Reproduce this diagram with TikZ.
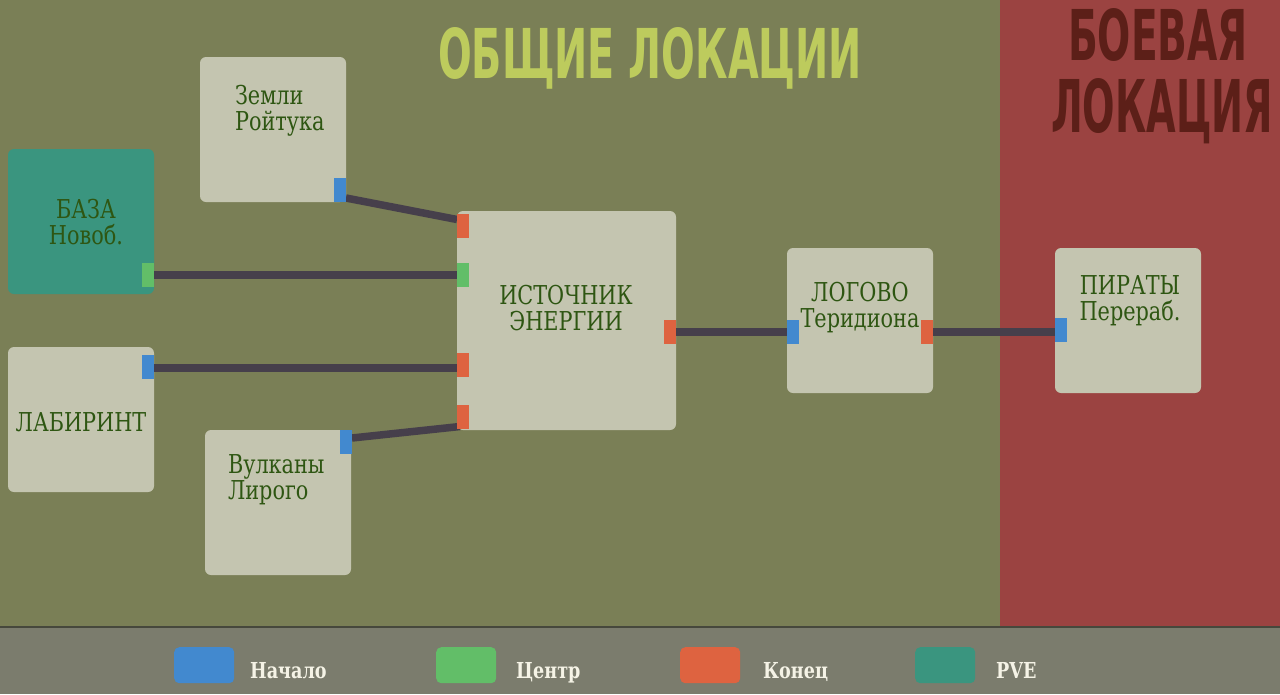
\documentclass[tikz,border=0pt]{standalone}
\usepackage{fontspec}
\usepackage{graphicx}
\setmainfont{DejaVu Serif}
\newfontfamily\titlefont{DejaVu Sans}
\definecolor{bggreen}{RGB}{122,127,86}
\definecolor{bgred}{RGB}{155,67,65}
\definecolor{bargray}{RGB}{123,124,109}
\definecolor{barline}{RGB}{70,72,60}
\definecolor{boxgray}{RGB}{196,197,176}
\definecolor{pvteal}{RGB}{58,149,127}
\definecolor{pblue}{RGB}{66,137,207}
\definecolor{pgreen}{RGB}{98,190,104}
\definecolor{pred}{RGB}{222,99,64}
\definecolor{wire}{RGB}{70,63,75}
\definecolor{txtgreen}{RGB}{46,86,18}
\definecolor{titlegreen}{RGB}{189,203,93}
\definecolor{titlered}{RGB}{92,31,24}
\definecolor{legtext}{RGB}{245,243,230}
\newcommand\cx[2][0.8]{\scalebox{#1}[1]{#2}}
\pgfdeclarelayer{bg}\pgfdeclarelayer{boxes}\pgfdeclarelayer{wires}
\pgfsetlayers{bg,boxes,wires,main}
\begin{document}
\begin{tikzpicture}[x=1pt,y=-1pt,
  loc/.style={fill=boxgray, rounded corners=6pt, inner sep=0pt, outer sep=0pt,
    minimum width=146pt, minimum height=145pt, anchor=north west},
  port/.style={inner sep=0pt, outer sep=0pt, minimum width=12pt, minimum height=24pt, anchor=north west},
  pstart/.style={port, fill=pblue},
  pmid/.style={port, fill=pgreen},
  pend/.style={port, fill=pred},
  conn/.style={draw=wire, line width=7.5pt},
  lbl/.style={font=\fontsize{26}{26}\selectfont, text=txtgreen, inner sep=0pt, outer sep=0pt},
  legbox/.style={rounded corners=5pt, minimum width=60pt, minimum height=36pt, anchor=north west, inner sep=0pt},
  legtxt/.style={font=\fontsize{22}{26}\selectfont\bfseries, text=legtext, inner sep=0pt, anchor=base west},
  ttl/.style={inner sep=0pt, outer sep=0pt, anchor=base west}
]
\useasboundingbox (0,0) rectangle (1280,694);
\begin{pgfonlayer}{bg}
  \fill[bggreen] (0,0) rectangle (1000,627);
  \fill[bgred] (1000,0) rectangle (1280,627);
  \fill[bargray] (0,627) rectangle (1280,694);
  \draw[barline, line width=2pt] (0,627) -- (1280,627);
\end{pgfonlayer}

% titles
\node[ttl, text=titlegreen] (t1) at (438,78) {\resizebox{424pt}{51pt}{\titlefont\bfseries ОБЩИЕ ЛОКАЦИИ}};
\node[ttl, text=titlered] (t2) at (1068,60) {\resizebox{180pt}{52pt}{\titlefont\bfseries БОЕВАЯ}};
\node[ttl, text=titlered] (t3) at (1051,132) {\resizebox{222pt}{54pt}{\titlefont\bfseries ЛОКАЦИЯ}};

% location boxes
\begin{pgfonlayer}{boxes}
  \node[loc] (zem) at (200,57) {};
  \node[loc, fill=pvteal] (baza) at (8,149) {};
  \node[loc] (lab) at (8,347) {};
  \node[loc] (vul) at (205,430) {};
  \node[loc, minimum width=219pt, minimum height=219pt] (src) at (457,211) {};
  \node[loc] (log) at (787,248) {};
  \node[loc] (pir) at (1055,248) {};
\end{pgfonlayer}

% labels (base anchor = baseline of the last line)
\node[lbl, align=left, anchor=base west] (tz) at (235,130) {\cx{Земли}\\\cx{Ройтука}};
\node[lbl, align=center, anchor=base] (tb) at (86,244) {\cx{БАЗА}\\\cx{Новоб.}};
\node[lbl, anchor=base] (tl) at (81,431) {\cx{ЛАБИРИНТ}};
\node[lbl, align=left, anchor=base west] (tv) at (228,499) {\cx{Вулканы}\\\cx{Лирого}};
\node[lbl, align=center, anchor=base] (ts) at (566,330) {\cx{ИСТОЧНИК}\\\cx{ЭНЕРГИИ}};
\node[lbl, align=center, anchor=base] (tg) at (860,327) {\cx{ЛОГОВО}\\\cx{Теридиона}};
\node[lbl, align=center, anchor=base] (tp) at (1130,320) {\cx{ПИРАТЫ}\\\cx{Перераб.}};

% ports
\node[pstart] (zp) at (334,178) {};
\node[pmid] (bp) at (142,263) {};
\node[pstart] (lp) at (142,355) {};
\node[pstart] (vp) at (340,430) {};
\node[pend] (s1) at (457,214) {};
\node[pmid] (s2) at (457,263) {};
\node[pend] (s3) at (457,353) {};
\node[pend] (s4) at (457,405) {};
\node[pend] (so) at (664,320) {};
\node[pstart] (gl) at (787,320) {};
\node[pend] (gr) at (921,320) {};
\node[pstart] (pp) at (1055,318) {};

% connectors
\begin{pgfonlayer}{wires}
  \draw[conn] ([yshift=-8pt]zp.east) -- ([yshift=6.5pt]s1.west);
  \draw[conn] (bp.east) -- (s2.west);
  \draw[conn] ([yshift=-1pt]lp.center) -- ([yshift=-1pt]lp.center -| s3.west);
  \draw[conn] ([yshift=4pt]vp.east) -- ([xshift=3pt,yshift=-9.5pt]s4.west);
  \draw[conn] (so.center) -- (so.center -| gl.center);
  \draw[conn] (gr.center) -- (gr.center -| pp.center);
\end{pgfonlayer}

% legend
\node[legbox, fill=pblue] (l1) at (174,647) {};
\node[legtxt] (lt1) at (250,678) {\cx[0.8]{Начало}};
\node[legbox, fill=pgreen] (l2) at (436,647) {};
\node[legtxt] (lt2) at (516,678) {\cx[0.8]{Центр}};
\node[legbox, fill=pred] (l3) at (680,647) {};
\node[legtxt] (lt3) at (763,678) {\cx[0.8]{Конец}};
\node[legbox, fill=pvteal] (l4) at (915,647) {};
\node[legtxt] (lt4) at (996,678) {\cx[0.8]{PVE}};
\end{tikzpicture}
\end{document}
